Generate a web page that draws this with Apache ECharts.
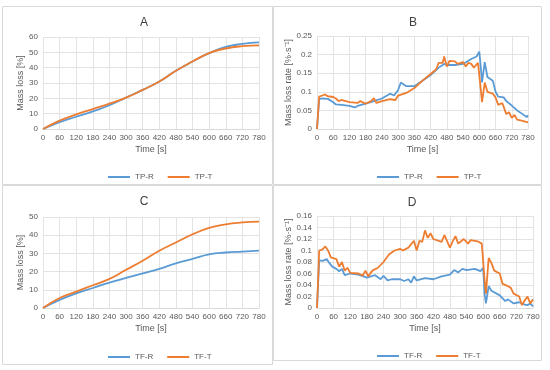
<!DOCTYPE html>
<html><head><meta charset="utf-8">
<script src="https://cdn.jsdelivr.net/npm/echarts@6/dist/echarts.min.js"></script>
<style>html,body{margin:0;padding:0;background:#fff}#c{width:550px;height:370px}</style>
</head><body><div id="c"></div>
<script>
// Panel A: cumulative mass loss, TP
var tA = [0,60,120,180,240,300,360,420,480,540,600,660,720,780];
var tpR_A = [0,4.5,8,11.5,15.5,20.5,25.5,31,38,44,49.5,53.5,55.5,56.5];
var tpT_A = [0,5.5,9.5,13,16.5,20.5,25.5,31,38,44,49.5,52.5,54,54.5];
// Panel C: cumulative mass loss, TF
var tC = [0,60,120,180,240,300,360,420,480,540,600,660,720,780];
var tfR_C = [0,4.5,8,11,14,16.5,19,21.5,24.5,27,29.5,30.5,31,31.5];
var tfT_C = [0,5.5,9,12.5,16,21,26,31.5,36,40.5,44,46,47,47.5];
// Panel B: mass loss rate, TP
var tB_R = [0,8,20,40,60,70,90,120,140,150,180,210,240,270,285,300,310,330,360,390,420,450,470,480,510,540,570,590,600,605,610,620,630,650,660,670,690,700,720,740,760,775,780];
var tpR_B = [0,0.08,0.082,0.081,0.072,0.066,0.065,0.062,0.058,0.062,0.068,0.075,0.082,0.095,0.09,0.105,0.125,0.115,0.115,0.13,0.145,0.165,0.175,0.172,0.172,0.175,0.188,0.195,0.208,0.17,0.125,0.18,0.14,0.13,0.1,0.087,0.085,0.075,0.063,0.05,0.04,0.032,0.037];
var tB_T = [0,8,20,30,40,60,70,80,90,120,150,160,180,200,210,220,240,270,290,300,330,360,390,420,440,450,465,470,480,490,510,520,540,550,560,570,580,595,600,605,610,620,630,650,660,670,685,700,710,720,730,740,760,780];
var tpT_B = [0,0.087,0.09,0.093,0.088,0.086,0.082,0.075,0.078,0.072,0.07,0.075,0.068,0.075,0.083,0.07,0.075,0.08,0.078,0.09,0.097,0.11,0.13,0.148,0.16,0.178,0.178,0.195,0.168,0.183,0.182,0.175,0.18,0.168,0.178,0.175,0.165,0.178,0.177,0.11,0.072,0.125,0.1,0.095,0.085,0.065,0.07,0.04,0.045,0.03,0.038,0.025,0.022,0.018];
// Panel D: mass loss rate, TF
var tD_R = [0,8,20,35,45,55,70,80,90,100,120,150,180,210,230,240,255,270,300,315,330,340,350,360,390,420,450,480,495,510,525,540,570,590,600,605,610,620,630,660,680,690,710,730,750,760,770,780];
var tfR_D = [0,0.083,0.082,0.085,0.078,0.072,0.068,0.064,0.068,0.057,0.06,0.058,0.053,0.057,0.05,0.056,0.048,0.05,0.05,0.047,0.05,0.044,0.055,0.048,0.052,0.05,0.055,0.058,0.066,0.062,0.068,0.066,0.068,0.064,0.07,0.025,0.008,0.038,0.03,0.022,0.012,0.015,0.008,0.01,0.006,0.005,0.008,0.003];
var tD_T = [0,8,20,30,40,50,70,80,90,100,110,120,150,165,175,185,200,220,240,260,280,300,310,330,350,360,370,380,390,400,410,420,450,460,480,490,500,510,530,545,555,580,595,600,605,610,620,630,640,660,670,690,700,710,730,740,750,760,770,780];
var tfT_D = [0,0.1,0.102,0.107,0.1,0.088,0.085,0.072,0.08,0.065,0.07,0.061,0.06,0.056,0.065,0.055,0.065,0.07,0.08,0.093,0.1,0.103,0.1,0.105,0.117,0.1,0.117,0.115,0.135,0.122,0.13,0.12,0.115,0.127,0.105,0.116,0.125,0.112,0.12,0.112,0.118,0.116,0.112,0.114,0.05,0.025,0.087,0.078,0.065,0.06,0.042,0.038,0.035,0.025,0.02,0.005,0.013,0.02,0.008,0.015];

function pairs(t, v){ return t.map(function(x,i){ return [x, v[i]]; }); }

var BLUE = '#5B9BD5', ORANGE = '#ED7D31';
var FONT = 'Liberation Sans';
var grids = [
  {left:43, right:550-259, top:37, bottom:370-129},
  {left:317, right:550-528, top:36, bottom:370-129},
  {left:43, right:550-259, top:217, bottom:370-308},
  {left:317, right:550-533, top:216, bottom:370-308}
];
var yCfg = [
  {max:60, interval:10, name:'Mass loss [%]', gap:18},
  {max:0.25, interval:0.05, name:'Mass loss rate [%·s⁻¹]', gap:24},
  {max:50, interval:10, name:'Mass loss [%]', gap:18},
  {max:0.16, interval:0.02, name:'Mass loss rate [%·s⁻¹]', gap:24}
];
var xAxes = grids.map(function(g,i){ return {
  type:'value', gridIndex:i, min:0, max:780, interval:60,
  name:'Time [s]', nameLocation:'middle', nameGap:16,
  nameTextStyle:{color:'#595959', fontSize:9, fontFamily:FONT},
  axisLine:{lineStyle:{color:'#d9d9d9'}}, axisTick:{show:false},
  axisLabel:{color:'#595959', fontSize:8, fontFamily:FONT, margin:5},
  splitLine:{show:true, lineStyle:{color:'#e3e3e3', width:1}}
};});
var yAxes = yCfg.map(function(c,i){ return {
  type:'value', gridIndex:i, min:0, max:c.max, interval:c.interval,
  name:c.name, nameLocation:'middle', nameGap:c.gap,
  nameTextStyle:{color:'#595959', fontSize:9, fontFamily:FONT},
  axisLine:{show:false}, axisTick:{show:false},
  axisLabel:{color:'#595959', fontSize:8, fontFamily:FONT, margin:5,
    formatter:function(v){ return String(+v.toFixed(3)); }},
  splitLine:{lineStyle:{color:'#e3e3e3', width:1}}
};});
function ser(name, data, idx, color, smooth){
  return {name:name, type:'line', xAxisIndex:idx, yAxisIndex:idx, data:data,
    showSymbol:false, smooth:smooth, lineStyle:{color:color, width:1.8}, itemStyle:{color:color}, animation:false};
}
var titles = [['A',139,12],['B',408,12],['C',139,191],['D',407,192]].map(function(t){
  return {text:t[0], left:t[1], top:t[2], textAlign:'center', textStyle:{fontSize:12, fontWeight:'normal', color:'#404040', fontFamily:FONT}};
});
function leg(names, cx, y){
  return {data:names, left:cx, top:y, icon:'rect', itemWidth:22, itemHeight:2, itemGap:14,
    textStyle:{color:'#595959', fontSize:8, fontFamily:FONT}, selectedMode:false};
}
var chart = echarts.init(document.getElementById('c'), null, {renderer:'canvas'});
chart.setOption({
  animation:false,
  backgroundColor:'#fff',
  title:titles,
  grid:grids,
  xAxis:xAxes,
  yAxis:yAxes,
  legend:[leg(['TP-R','TP-T'],103,168), leg(['TP-R','TP-T'],372,168), leg(['TF-R','TF-T'],103,348), leg(['TF-R','TF-T'],372,347)],
  series:[
    ser('TP-R', pairs(tA,tpR_A), 0, BLUE, true),
    ser('TP-T', pairs(tA,tpT_A), 0, ORANGE, true),
    ser('TP-R', pairs(tB_R,tpR_B), 1, BLUE, false),
    ser('TP-T', pairs(tB_T,tpT_B), 1, ORANGE, false),
    ser('TF-R', pairs(tC,tfR_C), 2, BLUE, true),
    ser('TF-T', pairs(tC,tfT_C), 2, ORANGE, true),
    ser('TF-R', pairs(tD_R,tfR_D), 3, BLUE, false),
    ser('TF-T', pairs(tD_T,tfT_D), 3, ORANGE, false)
  ],
  graphic:[
    {type:'rect', shape:{x:2.5,y:6.5,width:270,height:178}, style:{fill:null, stroke:'#d9d9d9', lineWidth:1}, silent:true},
    {type:'rect', shape:{x:273.5,y:6.5,width:268,height:178}, style:{fill:null, stroke:'#d9d9d9', lineWidth:1}, silent:true},
    {type:'rect', shape:{x:2.5,y:185.5,width:270,height:179}, style:{fill:null, stroke:'#d9d9d9', lineWidth:1}, silent:true},
    {type:'rect', shape:{x:273.5,y:185.5,width:268,height:175}, style:{fill:null, stroke:'#d9d9d9', lineWidth:1}, silent:true}
  ]
});
</script></body></html>
